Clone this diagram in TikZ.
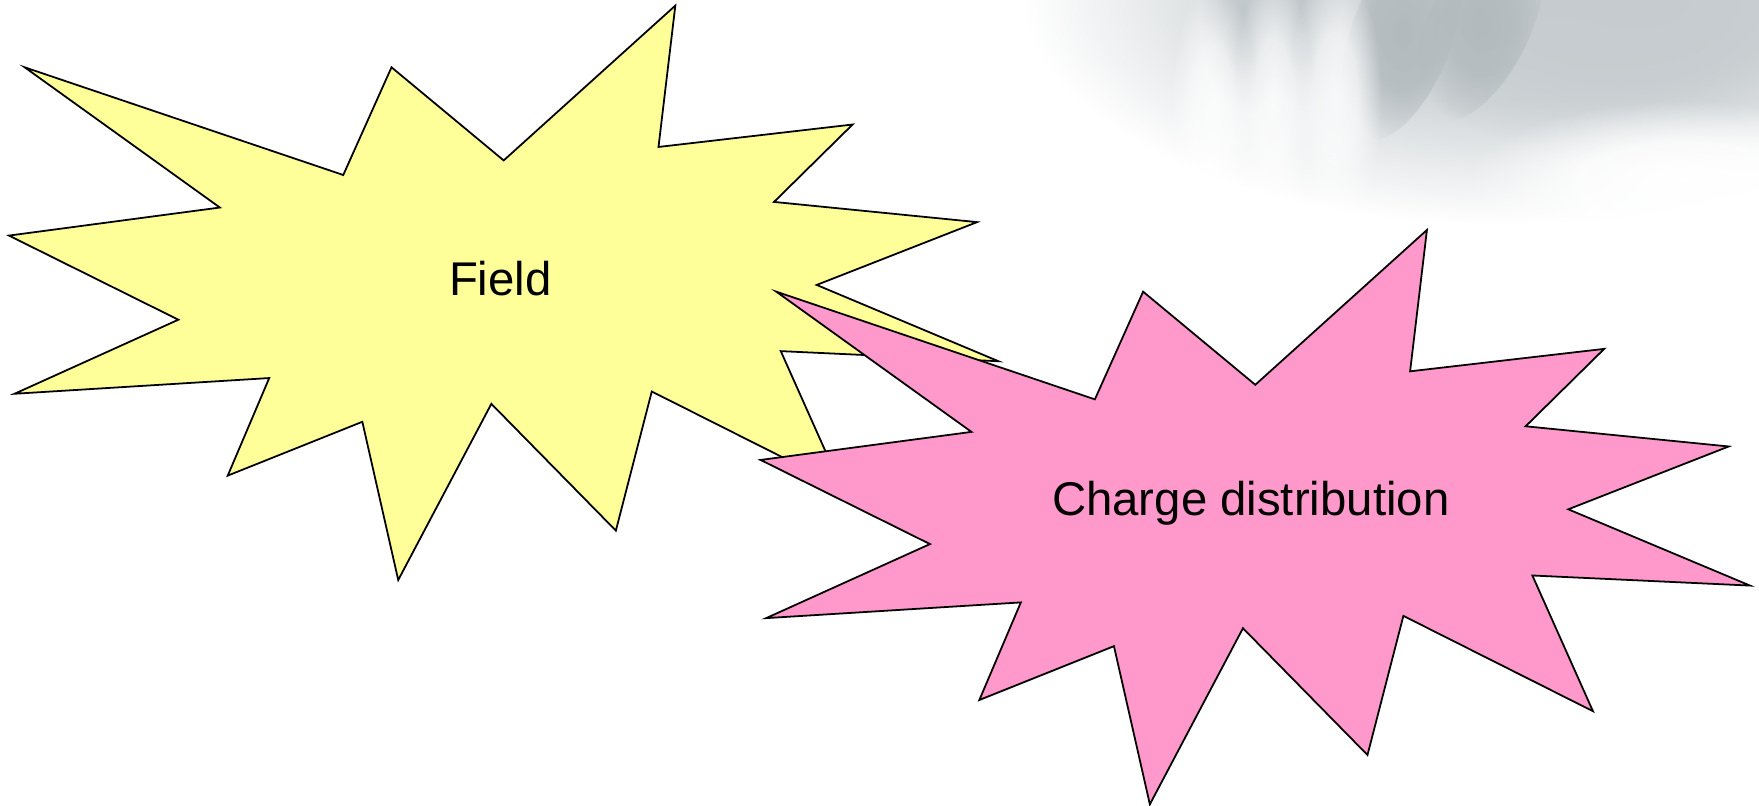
\documentclass[tikz,border=0pt]{standalone}
\usepackage{fontspec}
\setmainfont{Liberation Sans}
\usepackage{tikz}
\usetikzlibrary{fadings,positioning}
\usepackage{xcolor}
\definecolor{cYellow}{RGB}{255,255,153}
\definecolor{cPink}{RGB}{255,153,204}
\definecolor{cMist}{RGB}{178,186,190}
% soft radial mask for the backdrop
\pgfdeclareradialshading{softshade}{\pgfpointorigin}{color(0bp)=(white);
  color(12bp)=(white!80!black); color(25bp)=(black); color(50bp)=(black)}
\pgfdeclarefading{softfade}{\pgfuseshading{softshade}}
\tikzset{
  burstline/.style={draw=black,line width=0.45pt,line join=miter,miter limit=20},
  burstlabel/.style={font=\fontsize{12}{14}\selectfont,inner sep=0pt},
  mist/.style={path fading=softfade},
  burst/.pic={
    \path[pic actions] (22,60) -- (306,156) -- (349,60) -- (449,143) -- (602,5)
      -- (587,131) -- (760,111) -- (690,180) -- (871,198) -- (728,254)
      -- (890,322) -- (696,313) -- (750,434) -- (581,349) -- (549,473)
      -- (438,360) -- (355,517) -- (323,376) -- (203,424) -- (240,337)
      -- (13,351) -- (159,285) -- (8,210) -- (196,185) -- cycle;
  }
}
\begin{document}
\begin{tikzpicture}[x=0.01cm,y=-0.01cm]
  \useasboundingbox (0,0) rectangle (1568,718);

  % faded backdrop, top right
  \fill[cMist!75,mist] (1340,-10) ellipse [x radius=430,y radius=210];
  \fill[cMist!75,mist] (1470,0) ellipse [x radius=250,y radius=150];
  \fill[cMist!80,mist] (1110,10) ellipse [x radius=40,y radius=90];
  \fill[cMist!80,mist] (1160,5) ellipse [x radius=35,y radius=90];
  \fill[cMist,mist,rotate around={-20:(1250,30)}] (1250,30) ellipse [x radius=45,y radius=100];
  \fill[cMist,mist,rotate around={-25:(1320,20)}] (1320,20) ellipse [x radius=45,y radius=95];
  \fill[white,opacity=0.8,mist] (1082,95) ellipse [x radius=38,y radius=110];
  \fill[white,opacity=0.8,mist] (1135,90) ellipse [x radius=36,y radius=115];
  \fill[white,opacity=0.8,mist] (1190,85) ellipse [x radius=42,y radius=115];
  \fill[white,mist] (1500,160) ellipse [x radius=190,y radius=70];

  % the two bursts
  \pic[burstline,fill=cYellow] at (0,0) {burst};
  \pic[burstline,fill=cPink] at (670,200) {burst};

  % labels
  \node[burstlabel] (field) at (446,248) {Field};
  \node[burstlabel] (charge) at (1115,449) {Charge distribution};
\end{tikzpicture}
\end{document}
